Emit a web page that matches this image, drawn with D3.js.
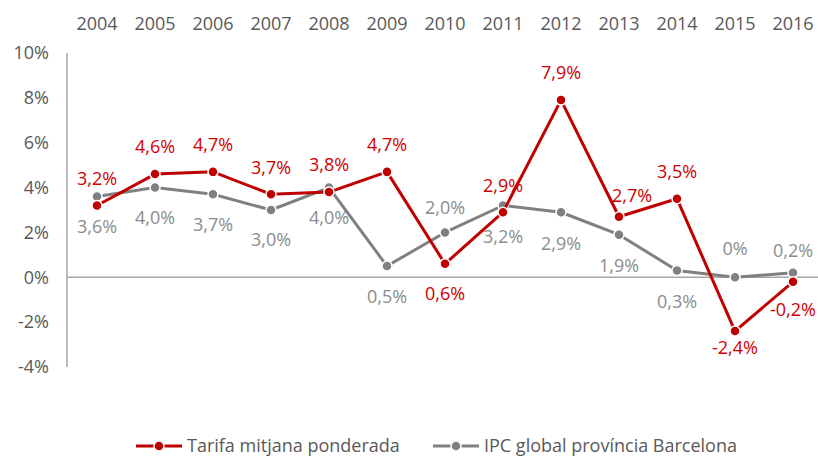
<!DOCTYPE html>
<html>
<head>
<meta charset="utf-8">
<script src="https://cdn.jsdelivr.net/npm/d3@7"></script>
<style>
  body { margin: 0; background: #fff; }
  text { font-family: "Open Sans", sans-serif; }
</style>
</head>
<body>
<svg id="chart"></svg>
<script>
/* data */
var years = ['2004','2005','2006','2007','2008','2009','2010','2011','2012','2013','2014','2015','2016'];
var tarifa = [3.2, 4.6, 4.7, 3.7, 3.8, 4.7, 0.6, 2.9, 7.9, 2.7, 3.5, -2.4, -0.2];
var ipc = [3.6, 4.0, 3.7, 3.0, 4.0, 0.5, 2.0, 3.2, 2.9, 1.9, 0.3, 0, 0.2];
var yTicks = [-4, -2, 0, 2, 4, 6, 8, 10];
var seriesNames = ['Tarifa mitjana ponderada', 'IPC global província Barcelona'];

/* label placement: vertical offset of each value label from its point */
var tarifaLabelDy = [-27, -27, -27, -27, -27, -27, 30, -27, -27, -21, -27, 17, 28];
var tarifaLabelDx = [0, 0, 0, 0, 0, 0, 0, 0, 0, 13, 0, 0, 0];
var ipcLabelDy = [30, 30, 30, 30, 30, 31, -25, 31, 31, 31, 31, -29, -22];

var width = 818;
var height = 458;
var fontSize = 18;
var red = '#C00000';
var grey = '#808080';
var axisText = '#595959';

var svg = d3.select('#chart')
    .attr('width', width)
    .attr('height', height);

var x = d3.scalePoint()
    .domain(years)
    .range([68, 822])
    .padding(0.5);

var y = d3.scaleLinear()
    .domain([-4, 10])
    .range([367, 53]);

function fmt(v) {
    if (v === 0) return '0%';
    return v.toFixed(1).replace('.', ',') + '%';
}

/* y axis line and labels */
svg.append('line')
    .attr('x1', 67).attr('x2', 67)
    .attr('y1', y(10)).attr('y2', y(-4))
    .attr('stroke', '#a6a6a6')
    .attr('stroke-width', 1.5);

svg.selectAll('.ytick')
    .data(yTicks)
    .enter()
    .append('text')
    .attr('class', 'ytick')
    .attr('x', 49)
    .attr('y', function(d){ return y(d); })
    .attr('dy', '0.35em')
    .attr('text-anchor', 'end')
    .attr('font-size', fontSize)
    .attr('fill', axisText)
    .text(function(d){ return d + '%'; });

/* zero line */
svg.append('line')
    .attr('x1', 67).attr('x2', width)
    .attr('y1', y(0)).attr('y2', y(0))
    .attr('stroke', '#a6a6a6')
    .attr('stroke-width', 1.5);

/* year labels along the top */
svg.selectAll('.xtick')
    .data(years)
    .enter()
    .append('text')
    .attr('class', 'xtick')
    .attr('x', function(d){ return x(d); })
    .attr('y', 24)
    .attr('dy', '0.35em')
    .attr('text-anchor', 'middle')
    .attr('font-size', fontSize)
    .attr('fill', axisText)
    .text(function(d){ return d; });

function drawSeries(values, color, labelDy, labelDx, labelColor) {
    var line = d3.line()
        .x(function(d, i){ return x(years[i]); })
        .y(function(d){ return y(d); });

    svg.append('path')
        .datum(values)
        .attr('d', line)
        .attr('fill', 'none')
        .attr('stroke', color)
        .attr('stroke-width', 3)
        .attr('stroke-linejoin', 'round');

    svg.append('g').selectAll('circle')
        .data(values)
        .enter()
        .append('circle')
        .attr('cx', function(d, i){ return x(years[i]); })
        .attr('cy', function(d){ return y(d); })
        .attr('r', 5)
        .attr('fill', color)
        .attr('stroke', '#fff')
        .attr('stroke-width', 1.5);

    svg.append('g').selectAll('text')
        .data(values)
        .enter()
        .append('text')
        .attr('x', function(d, i){ return x(years[i]) + (labelDx ? labelDx[i] : 0); })
        .attr('y', function(d, i){ return y(d) + labelDy[i]; })
        .attr('dy', '0.35em')
        .attr('text-anchor', 'middle')
        .attr('font-size', fontSize)
        .attr('fill', labelColor)
        .text(function(d){ return fmt(d); });
}

drawSeries(ipc, grey, ipcLabelDy, null, '#8c8c8c');
drawSeries(tarifa, red, tarifaLabelDy, tarifaLabelDx, '#D00000');

/* legend */
var legendItems = [
    { name: seriesNames[0], color: red, x: 136 },
    { name: seriesNames[1], color: grey, x: 433 }
];
var legend = svg.selectAll('.legend')
    .data(legendItems)
    .enter()
    .append('g')
    .attr('class', 'legend')
    .attr('transform', function(d){ return 'translate(' + d.x + ',446)'; });

legend.append('line')
    .attr('x1', 0).attr('x2', 46)
    .attr('stroke', function(d){ return d.color; })
    .attr('stroke-width', 3);
legend.append('circle')
    .attr('cx', 23).attr('r', 5)
    .attr('fill', function(d){ return d.color; })
    .attr('stroke', '#fff')
    .attr('stroke-width', 1.5);
legend.append('text')
    .attr('x', 51)
    .attr('dy', '0.35em')
    .attr('font-size', fontSize)
    .attr('fill', axisText)
    .text(function(d){ return d.name; });
</script>
</body>
</html>
